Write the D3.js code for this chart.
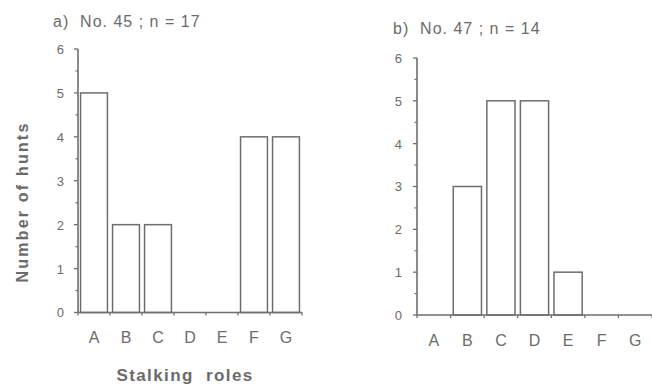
<!DOCTYPE html>
<html>
<head>
<meta charset="utf-8">
<script src="https://cdn.jsdelivr.net/npm/d3@7"></script>
<style>
  html, body { margin: 0; padding: 0; background: #ffffff; }
  svg { display: block; }
  text { font-family: "Liberation Sans", Arial, sans-serif; fill: #6b6b6b; }
</style>
</head>
<body>
<svg id="chart" width="652" height="386"></svg>
<script>
// Stalking roles and hunt counts for two individuals
const roles = ["A", "B", "C", "D", "E", "F", "G"];
const huntsNo45 = [5, 2, 2, 0, 0, 4, 4];
const huntsNo47 = [0, 3, 5, 5, 1, 0, 0];
const yTicks = [0, 1, 2, 3, 4, 5, 6];
const titles = ["a)  No. 45 ; n = 17", "b)  No. 47 ; n = 14"];
const xTitle = "Stalking  roles";
const yTitle = "Number of hunts";

const svg = d3.select("#chart");
const ink = "#6e6e6e";

const panels = [
  { values: huntsNo45, title: titles[0], x0: 78, x1: 302, y0: 312.5, y1: 49,
    titleX: 53, titleY: 27, catY: 343, tickLabelX: 64 },
  { values: huntsNo47, title: titles[1], x0: 417, x1: 652, y0: 315, y1: 58,
    titleX: 393, titleY: 34, catY: 346, tickLabelX: 402 }
];

panels.forEach(p => {
  const x = d3.scaleBand().domain(roles).range([p.x0, p.x1]).padding(0);
  const y = d3.scaleLinear().domain([0, 6]).range([p.y0, p.y1]);
  const g = svg.append("g");

  // bars (zero-height bars are not drawn)
  const inset = x.bandwidth() * 0.08;
  g.selectAll("rect.bar")
    .data(roles.map((r, i) => ({ role: r, v: p.values[i] })).filter(d => d.v > 0))
    .join("rect")
    .attr("class", "bar")
    .attr("x", d => x(d.role) + inset)
    .attr("width", x.bandwidth() - 2 * inset)
    .attr("y", d => y(d.v))
    .attr("height", d => y(0) - y(d.v))
    .attr("fill", "none")
    .attr("stroke", ink)
    .attr("stroke-width", 1.5);

  // y axis: major ticks with labels, minor ticks at half units
  const yAxis = g.append("g").attr("transform", `translate(${p.x0},0)`);
  yAxis.append("line")
    .attr("x1", 0).attr("x2", 0)
    .attr("y1", y(0)).attr("y2", y(6))
    .attr("stroke", ink).attr("stroke-width", 1.6);
  yAxis.selectAll("line.major")
    .data(yTicks).join("line").attr("class", "major")
    .attr("x1", -4).attr("x2", 0)
    .attr("y1", d => y(d)).attr("y2", d => y(d))
    .attr("stroke", ink).attr("stroke-width", 1.3);
  yAxis.selectAll("line.minor")
    .data(yTicks.slice(0, -1).map(d => d + 0.5)).join("line").attr("class", "minor")
    .attr("x1", -2.5).attr("x2", 0)
    .attr("y1", d => y(d)).attr("y2", d => y(d))
    .attr("stroke", ink).attr("stroke-width", 1.2);
  g.selectAll("text.ytick")
    .data(yTicks).join("text").attr("class", "ytick")
    .attr("x", p.tickLabelX)
    .attr("y", d => y(d))
    .attr("dy", "0.38em")
    .attr("text-anchor", "end")
    .attr("font-size", 13)
    .text(d => d);

  // x axis: baseline with ticks at band edges
  const edges = roles.map(r => x(r)).concat([p.x1]);
  g.append("line")
    .attr("x1", p.x0).attr("x2", p.x1)
    .attr("y1", y(0)).attr("y2", y(0))
    .attr("stroke", ink).attr("stroke-width", 1.6);
  g.selectAll("line.xtick")
    .data(edges).join("line").attr("class", "xtick")
    .attr("x1", d => d).attr("x2", d => d)
    .attr("y1", y(0)).attr("y2", y(0) + 3)
    .attr("stroke", ink).attr("stroke-width", 1.3);
  g.selectAll("text.cat")
    .data(roles).join("text").attr("class", "cat")
    .attr("x", d => x(d) + x.bandwidth() / 2)
    .attr("y", p.catY)
    .attr("text-anchor", "middle")
    .attr("font-size", 16)
    .text(d => d);

  // panel title
  g.append("text")
    .attr("x", p.titleX)
    .attr("y", p.titleY)
    .attr("font-size", 16)
    .attr("letter-spacing", 1)
    .style("white-space", "pre")
    .text(p.title);
});

// shared axis titles
svg.append("text")
  .attr("x", 185).attr("y", 381)
  .attr("text-anchor", "middle")
  .attr("font-size", 17)
  .attr("font-weight", "bold")
  .attr("letter-spacing", 1.4)
  .style("white-space", "pre")
  .text(xTitle);

svg.append("text")
  .attr("transform", "translate(28,202) rotate(-90)")
  .attr("text-anchor", "middle")
  .attr("font-size", 16)
  .attr("font-weight", "bold")
  .attr("letter-spacing", 2.2)
  .text(yTitle);
</script>
</body>
</html>
